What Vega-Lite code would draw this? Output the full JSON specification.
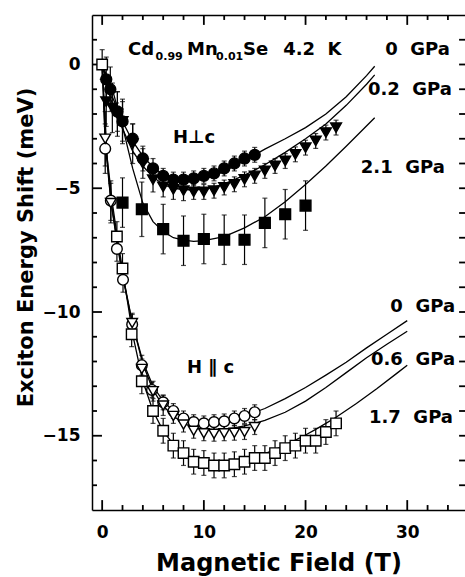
{
  "$schema": "https://vega.github.io/schema/vega-lite/v6.json",
  "width": 373,
  "height": 495,
  "autosize": {"type": "none"},
  "padding": {"left": 92, "top": 15, "right": 0, "bottom": 67},
  "background": "white",
  "config": {
    "view": {"stroke": null},
    "axis": {
      "grid": false,
      "domainColor": "black",
      "domainWidth": 1.5,
      "labelColor": "black",
      "titleColor": "black",
      "labelFont": "DejaVu Sans",
      "titleFont": "DejaVu Sans",
      "labelFontWeight": "bold",
      "titleFontWeight": "bold",
      "labelOverlap": false
    }
  },
  "datasets": {
    "ticksX": [
      {"v": 0, "k": "major"}, {"v": 2, "k": "minor"}, {"v": 4, "k": "minor"}, {"v": 6, "k": "minor"}, {"v": 8, "k": "minor"},
      {"v": 10, "k": "major"}, {"v": 12, "k": "minor"}, {"v": 14, "k": "minor"}, {"v": 16, "k": "minor"}, {"v": 18, "k": "minor"},
      {"v": 20, "k": "major"}, {"v": 22, "k": "minor"}, {"v": 24, "k": "minor"}, {"v": 26, "k": "minor"}, {"v": 28, "k": "minor"},
      {"v": 30, "k": "major"}, {"v": 32, "k": "minor"}, {"v": 34, "k": "minor"}
    ],
    "ticksY": [
      {"v": -17, "k": "minor"}, {"v": -16, "k": "minor"}, {"v": -15, "k": "major"}, {"v": -14, "k": "minor"}, {"v": -13, "k": "minor"},
      {"v": -12, "k": "minor"}, {"v": -11, "k": "minor"}, {"v": -10, "k": "major"}, {"v": -9, "k": "minor"}, {"v": -8, "k": "minor"},
      {"v": -7, "k": "minor"}, {"v": -6, "k": "minor"}, {"v": -5, "k": "major"}, {"v": -4, "k": "minor"}, {"v": -3, "k": "minor"},
      {"v": -2, "k": "minor"}, {"v": -1, "k": "minor"}, {"v": 0, "k": "major"}, {"v": 1, "k": "minor"}
    ],
    "pts": [
      {"s": "perp0", "B": 0.4, "E": -0.6, "err": 0.9},
      {"s": "perp0", "B": 0.8, "E": -1.0, "err": 0.9},
      {"s": "perp0", "B": 1.5, "E": -1.9, "err": 0.8},
      {"s": "perp0", "B": 2.0, "E": -2.3, "err": 0.8},
      {"s": "perp0", "B": 3.0, "E": -3.0, "err": 0.6},
      {"s": "perp0", "B": 4.0, "E": -3.8, "err": 0.5},
      {"s": "perp0", "B": 5.0, "E": -4.2, "err": 0.4},
      {"s": "perp0", "B": 6.0, "E": -4.5, "err": 0.3},
      {"s": "perp0", "B": 7.0, "E": -4.65, "err": 0.3},
      {"s": "perp0", "B": 8.0, "E": -4.65, "err": 0.3},
      {"s": "perp0", "B": 9.0, "E": -4.6, "err": 0.3},
      {"s": "perp0", "B": 10.0, "E": -4.5, "err": 0.3},
      {"s": "perp0", "B": 11.0, "E": -4.4, "err": 0.3},
      {"s": "perp0", "B": 12.0, "E": -4.2, "err": 0.3},
      {"s": "perp0", "B": 13.0, "E": -4.0, "err": 0.3},
      {"s": "perp0", "B": 14.0, "E": -3.8, "err": 0.3},
      {"s": "perp0", "B": 15.0, "E": -3.65, "err": 0.3},
      {"s": "perp02", "B": 0.4, "E": -1.5, "err": 1.0},
      {"s": "perp02", "B": 1.0, "E": -1.75, "err": 1.0},
      {"s": "perp02", "B": 1.5, "E": -2.0, "err": 0.9},
      {"s": "perp02", "B": 2.0, "E": -2.3, "err": 0.9},
      {"s": "perp02", "B": 3.0, "E": -3.2, "err": 0.8},
      {"s": "perp02", "B": 4.0, "E": -4.0, "err": 0.6},
      {"s": "perp02", "B": 5.0, "E": -4.65, "err": 0.5},
      {"s": "perp02", "B": 6.0, "E": -4.95, "err": 0.4},
      {"s": "perp02", "B": 7.0, "E": -5.05, "err": 0.4},
      {"s": "perp02", "B": 8.0, "E": -5.1, "err": 0.4},
      {"s": "perp02", "B": 9.0, "E": -5.15, "err": 0.3},
      {"s": "perp02", "B": 10.0, "E": -5.15, "err": 0.3},
      {"s": "perp02", "B": 11.0, "E": -5.1, "err": 0.3},
      {"s": "perp02", "B": 12.0, "E": -4.97, "err": 0.3},
      {"s": "perp02", "B": 13.0, "E": -4.84, "err": 0.3},
      {"s": "perp02", "B": 14.0, "E": -4.64, "err": 0.3},
      {"s": "perp02", "B": 15.0, "E": -4.5, "err": 0.3},
      {"s": "perp02", "B": 16.0, "E": -4.3, "err": 0.3},
      {"s": "perp02", "B": 17.0, "E": -4.1, "err": 0.3},
      {"s": "perp02", "B": 18.0, "E": -3.9, "err": 0.3},
      {"s": "perp02", "B": 19.0, "E": -3.63, "err": 0.3},
      {"s": "perp02", "B": 20.0, "E": -3.36, "err": 0.3},
      {"s": "perp02", "B": 21.0, "E": -3.09, "err": 0.3},
      {"s": "perp02", "B": 22.0, "E": -2.75, "err": 0.3},
      {"s": "perp02", "B": 23.0, "E": -2.55, "err": 0.3},
      {"s": "perp21", "B": 2.0, "E": -5.58, "err": 1.0},
      {"s": "perp21", "B": 3.9, "E": -5.85, "err": 1.1},
      {"s": "perp21", "B": 6.0, "E": -6.65, "err": 1.0},
      {"s": "perp21", "B": 8.0, "E": -7.12, "err": 1.0},
      {"s": "perp21", "B": 10.0, "E": -7.05, "err": 1.0},
      {"s": "perp21", "B": 12.0, "E": -7.08, "err": 1.0},
      {"s": "perp21", "B": 14.0, "E": -7.08, "err": 1.0},
      {"s": "perp21", "B": 16.0, "E": -6.4, "err": 1.0},
      {"s": "perp21", "B": 18.0, "E": -6.05, "err": 1.0},
      {"s": "perp21", "B": 20.0, "E": -5.7, "err": 1.0},
      {"s": "par0", "B": 0.3, "E": -3.4, "err": 1.0},
      {"s": "par0", "B": 0.85, "E": -5.5, "err": 0.8},
      {"s": "par0", "B": 1.45, "E": -7.45, "err": 0.5},
      {"s": "par0", "B": 2.05, "E": -8.7, "err": 0.5},
      {"s": "par0", "B": 2.95, "E": -10.5, "err": 0.4},
      {"s": "par0", "B": 3.9, "E": -12.15, "err": 0.4},
      {"s": "par0", "B": 4.9, "E": -13.15, "err": 0.3},
      {"s": "par0", "B": 6.0, "E": -13.65, "err": 0.3},
      {"s": "par0", "B": 7.0, "E": -14.0, "err": 0.3},
      {"s": "par0", "B": 8.0, "E": -14.3, "err": 0.3},
      {"s": "par0", "B": 9.0, "E": -14.45, "err": 0.3},
      {"s": "par0", "B": 10.0, "E": -14.5, "err": 0.3},
      {"s": "par0", "B": 11.0, "E": -14.45, "err": 0.3},
      {"s": "par0", "B": 12.0, "E": -14.42, "err": 0.3},
      {"s": "par0", "B": 13.0, "E": -14.3, "err": 0.3},
      {"s": "par0", "B": 14.0, "E": -14.2, "err": 0.3},
      {"s": "par0", "B": 15.0, "E": -14.05, "err": 0.3},
      {"s": "par06", "B": 0.3, "E": -3.0, "err": 1.1},
      {"s": "par06", "B": 0.85, "E": -5.6, "err": 0.8},
      {"s": "par06", "B": 2.95, "E": -10.45, "err": 0.4},
      {"s": "par06", "B": 3.9, "E": -12.3, "err": 0.4},
      {"s": "par06", "B": 5.0, "E": -13.2, "err": 0.4},
      {"s": "par06", "B": 6.0, "E": -13.78, "err": 0.4},
      {"s": "par06", "B": 7.0, "E": -14.2, "err": 0.3},
      {"s": "par06", "B": 8.0, "E": -14.55, "err": 0.3},
      {"s": "par06", "B": 9.0, "E": -14.8, "err": 0.3},
      {"s": "par06", "B": 10.0, "E": -14.9, "err": 0.3},
      {"s": "par06", "B": 11.0, "E": -14.92, "err": 0.3},
      {"s": "par06", "B": 12.0, "E": -14.9, "err": 0.3},
      {"s": "par06", "B": 13.0, "E": -14.88, "err": 0.3},
      {"s": "par06", "B": 14.0, "E": -14.85, "err": 0.3},
      {"s": "par06", "B": 15.0, "E": -14.65, "err": 0.3},
      {"s": "par17", "B": 0.0, "E": 0.0, "err": 0.6},
      {"s": "par17", "B": 1.45, "E": -6.95, "err": 0.6},
      {"s": "par17", "B": 2.0, "E": -8.24, "err": 0.6},
      {"s": "par17", "B": 2.9, "E": -10.9, "err": 0.5},
      {"s": "par17", "B": 3.9, "E": -12.8, "err": 0.5},
      {"s": "par17", "B": 5.0, "E": -14.0, "err": 0.5},
      {"s": "par17", "B": 6.0, "E": -14.8, "err": 0.5},
      {"s": "par17", "B": 7.0, "E": -15.4, "err": 0.5},
      {"s": "par17", "B": 8.0, "E": -15.7, "err": 0.5},
      {"s": "par17", "B": 9.0, "E": -16.05, "err": 0.5},
      {"s": "par17", "B": 10.0, "E": -16.1, "err": 0.5},
      {"s": "par17", "B": 11.0, "E": -16.2, "err": 0.5},
      {"s": "par17", "B": 12.0, "E": -16.2, "err": 0.5},
      {"s": "par17", "B": 13.0, "E": -16.15, "err": 0.5},
      {"s": "par17", "B": 14.0, "E": -16.05, "err": 0.5},
      {"s": "par17", "B": 15.0, "E": -15.9, "err": 0.5},
      {"s": "par17", "B": 16.0, "E": -15.9, "err": 0.5},
      {"s": "par17", "B": 17.0, "E": -15.7, "err": 0.5},
      {"s": "par17", "B": 18.0, "E": -15.5, "err": 0.5},
      {"s": "par17", "B": 19.0, "E": -15.4, "err": 0.5},
      {"s": "par17", "B": 20.0, "E": -15.2, "err": 0.5},
      {"s": "par17", "B": 21.0, "E": -15.2, "err": 0.5},
      {"s": "par17", "B": 22.0, "E": -14.85, "err": 0.5},
      {"s": "par17", "B": 23.0, "E": -14.5, "err": 0.5}
    ],
    "fits": [
      {"c": "p0", "B": 0, "E": 0}, {"c": "p0", "B": 0.5, "E": -0.7}, {"c": "p0", "B": 1, "E": -1.3}, {"c": "p0", "B": 2, "E": -2.3}, {"c": "p0", "B": 3, "E": -3.1}, {"c": "p0", "B": 4, "E": -3.7}, {"c": "p0", "B": 5, "E": -4.15}, {"c": "p0", "B": 6, "E": -4.45}, {"c": "p0", "B": 7, "E": -4.62}, {"c": "p0", "B": 8, "E": -4.7}, {"c": "p0", "B": 9, "E": -4.7}, {"c": "p0", "B": 10, "E": -4.62}, {"c": "p0", "B": 11, "E": -4.5}, {"c": "p0", "B": 12, "E": -4.32}, {"c": "p0", "B": 13, "E": -4.1}, {"c": "p0", "B": 14, "E": -3.88}, {"c": "p0", "B": 15, "E": -3.65}, {"c": "p0", "B": 16, "E": -3.42}, {"c": "p0", "B": 18, "E": -3.0}, {"c": "p0", "B": 20, "E": -2.55}, {"c": "p0", "B": 22, "E": -2.0}, {"c": "p0", "B": 24, "E": -1.3}, {"c": "p0", "B": 26, "E": -0.45}, {"c": "p0", "B": 26.8, "E": -0.07},
      {"c": "p02", "B": 0, "E": 0}, {"c": "p02", "B": 0.5, "E": -0.9}, {"c": "p02", "B": 1, "E": -1.6}, {"c": "p02", "B": 2, "E": -2.6}, {"c": "p02", "B": 3, "E": -3.5}, {"c": "p02", "B": 4, "E": -4.1}, {"c": "p02", "B": 5, "E": -4.55}, {"c": "p02", "B": 6, "E": -4.85}, {"c": "p02", "B": 7, "E": -5.0}, {"c": "p02", "B": 8, "E": -5.05}, {"c": "p02", "B": 9, "E": -5.07}, {"c": "p02", "B": 10, "E": -5.03}, {"c": "p02", "B": 11, "E": -4.95}, {"c": "p02", "B": 12, "E": -4.82}, {"c": "p02", "B": 13, "E": -4.65}, {"c": "p02", "B": 14, "E": -4.47}, {"c": "p02", "B": 15, "E": -4.27}, {"c": "p02", "B": 16, "E": -4.05}, {"c": "p02", "B": 18, "E": -3.55}, {"c": "p02", "B": 20, "E": -3.0}, {"c": "p02", "B": 22, "E": -2.4}, {"c": "p02", "B": 24, "E": -1.65}, {"c": "p02", "B": 26, "E": -0.8}, {"c": "p02", "B": 26.8, "E": -0.42},
      {"c": "p21", "B": 0, "E": 0}, {"c": "p21", "B": 1, "E": -1.0}, {"c": "p21", "B": 2, "E": -2.5}, {"c": "p21", "B": 3, "E": -4.2}, {"c": "p21", "B": 4, "E": -5.6}, {"c": "p21", "B": 5, "E": -6.35}, {"c": "p21", "B": 6, "E": -6.75}, {"c": "p21", "B": 7, "E": -7.0}, {"c": "p21", "B": 8, "E": -7.1}, {"c": "p21", "B": 9, "E": -7.15}, {"c": "p21", "B": 10, "E": -7.12}, {"c": "p21", "B": 12, "E": -6.95}, {"c": "p21", "B": 14, "E": -6.6}, {"c": "p21", "B": 16, "E": -6.15}, {"c": "p21", "B": 18, "E": -5.55}, {"c": "p21", "B": 20, "E": -4.85}, {"c": "p21", "B": 22, "E": -4.1}, {"c": "p21", "B": 24, "E": -3.3}, {"c": "p21", "B": 26.8, "E": -2.15},
      {"c": "q0", "B": 0, "E": 0}, {"c": "q0", "B": 0.3, "E": -3.2}, {"c": "q0", "B": 0.85, "E": -5.5}, {"c": "q0", "B": 1.5, "E": -7.3}, {"c": "q0", "B": 2, "E": -8.55}, {"c": "q0", "B": 3, "E": -10.5}, {"c": "q0", "B": 4, "E": -12.0}, {"c": "q0", "B": 5, "E": -13.0}, {"c": "q0", "B": 6, "E": -13.6}, {"c": "q0", "B": 7, "E": -14.0}, {"c": "q0", "B": 8, "E": -14.28}, {"c": "q0", "B": 9, "E": -14.44}, {"c": "q0", "B": 10, "E": -14.5}, {"c": "q0", "B": 11, "E": -14.48}, {"c": "q0", "B": 12, "E": -14.42}, {"c": "q0", "B": 13, "E": -14.32}, {"c": "q0", "B": 14, "E": -14.2}, {"c": "q0", "B": 15, "E": -14.05}, {"c": "q0", "B": 16, "E": -13.9}, {"c": "q0", "B": 18, "E": -13.5}, {"c": "q0", "B": 20, "E": -13.05}, {"c": "q0", "B": 22, "E": -12.55}, {"c": "q0", "B": 24, "E": -12.03}, {"c": "q0", "B": 26, "E": -11.45}, {"c": "q0", "B": 28, "E": -10.9}, {"c": "q0", "B": 30, "E": -10.35},
      {"c": "q06", "B": 0, "E": 0}, {"c": "q06", "B": 0.3, "E": -2.9}, {"c": "q06", "B": 0.85, "E": -5.5}, {"c": "q06", "B": 1.5, "E": -7.2}, {"c": "q06", "B": 2, "E": -8.45}, {"c": "q06", "B": 3, "E": -10.5}, {"c": "q06", "B": 4, "E": -12.1}, {"c": "q06", "B": 5, "E": -13.15}, {"c": "q06", "B": 6, "E": -13.8}, {"c": "q06", "B": 7, "E": -14.2}, {"c": "q06", "B": 8, "E": -14.5}, {"c": "q06", "B": 9, "E": -14.66}, {"c": "q06", "B": 10, "E": -14.73}, {"c": "q06", "B": 11, "E": -14.75}, {"c": "q06", "B": 12, "E": -14.73}, {"c": "q06", "B": 13, "E": -14.68}, {"c": "q06", "B": 14, "E": -14.6}, {"c": "q06", "B": 15, "E": -14.5}, {"c": "q06", "B": 16, "E": -14.38}, {"c": "q06", "B": 18, "E": -14.05}, {"c": "q06", "B": 20, "E": -13.6}, {"c": "q06", "B": 22, "E": -13.05}, {"c": "q06", "B": 24, "E": -12.45}, {"c": "q06", "B": 26, "E": -11.85}, {"c": "q06", "B": 28, "E": -11.3}, {"c": "q06", "B": 30, "E": -10.78},
      {"c": "q17", "B": 0, "E": 0}, {"c": "q17", "B": 0.5, "E": -3.8}, {"c": "q17", "B": 1, "E": -5.6}, {"c": "q17", "B": 1.5, "E": -7.0}, {"c": "q17", "B": 2, "E": -8.3}, {"c": "q17", "B": 3, "E": -10.9}, {"c": "q17", "B": 4, "E": -12.8}, {"c": "q17", "B": 5, "E": -14.0}, {"c": "q17", "B": 6, "E": -14.8}, {"c": "q17", "B": 7, "E": -15.35}, {"c": "q17", "B": 8, "E": -15.72}, {"c": "q17", "B": 9, "E": -15.95}, {"c": "q17", "B": 10, "E": -16.08}, {"c": "q17", "B": 11, "E": -16.13}, {"c": "q17", "B": 12, "E": -16.12}, {"c": "q17", "B": 13, "E": -16.07}, {"c": "q17", "B": 14, "E": -15.98}, {"c": "q17", "B": 15, "E": -15.86}, {"c": "q17", "B": 16, "E": -15.72}, {"c": "q17", "B": 17, "E": -15.56}, {"c": "q17", "B": 18, "E": -15.38}, {"c": "q17", "B": 19, "E": -15.18}, {"c": "q17", "B": 20, "E": -14.97}, {"c": "q17", "B": 21, "E": -14.74}, {"c": "q17", "B": 22, "E": -14.5}, {"c": "q17", "B": 23, "E": -14.25}, {"c": "q17", "B": 25, "E": -13.7}, {"c": "q17", "B": 27, "E": -13.1}, {"c": "q17", "B": 29, "E": -12.47}, {"c": "q17", "B": 30, "E": -12.15}
    ],
    "txtL": [
      {"t": "Cd", "B": 2.54, "E": 0.38},
      {"t": "Mn", "B": 8.34, "E": 0.38},
      {"t": "Se", "B": 13.85, "E": 0.38},
      {"t": "4.2\u00a0\u00a0K", "B": 17.8, "E": 0.38},
      {"t": "H⊥c", "B": 6.96, "E": -3.17},
      {"t": "H\u00a0∥\u00a0c", "B": 8.34, "E": -12.46}
    ],
    "txtR": [
      {"t": "0\u00a0\u00a0GPa", "B": 34.2, "E": 0.38},
      {"t": "0.2\u00a0\u00a0GPa", "B": 34.4, "E": -1.23},
      {"t": "2.1\u00a0\u00a0GPa", "B": 33.7, "E": -4.38},
      {"t": "0\u00a0\u00a0GPa", "B": 34.7, "E": -10.0},
      {"t": "0.6\u00a0\u00a0GPa", "B": 34.7, "E": -12.14},
      {"t": "1.7\u00a0\u00a0GPa", "B": 34.5, "E": -14.48}
    ],
    "txtS": [
      {"t": "0.99", "B": 5.25, "E": 0.18},
      {"t": "0.01", "B": 11.2, "E": 0.18}
    ]
  },
  "resolve": {"axis": {"x": "independent", "y": "independent"}},
  "layer": [
    {
      "data": {"name": "fits"},
      "mark": {"type": "line", "color": "black", "strokeWidth": 1.3},
      "encoding": {
        "x": {
          "field": "B", "type": "quantitative",
          "scale": {"domain": [-1, 35.68], "nice": false, "zero": false},
          "axis": {
            "orient": "bottom",
            "values": [0, 10, 20, 30],
            "ticks": false,
            "tickSize": 0,
            "labelFontSize": 17,
            "labelPadding": 14,
            "title": "Magnetic Field (T)",
            "titleFontSize": 24,
            "titleBaseline": "alphabetic",
            "titleY": 60
          }
        },
        "y": {
          "field": "E", "type": "quantitative",
          "scale": {"domain": [-18, 2], "nice": false, "zero": false},
          "axis": {
            "orient": "left",
            "values": [-15, -10, -5, 0],
            "ticks": false,
            "tickSize": 0,
            "labelFontSize": 17,
            "labelPadding": 12,
            "title": "Exciton Energy Shift (meV)",
            "titleFontSize": 21,
            "titleBaseline": "alphabetic",
            "titleX": -60,
            "titleY": 232
          }
        },
        "detail": {"field": "c"}
      }
    },
    {
      "data": {"name": "ticksX"},
      "transform": [{"filter": "datum.k === 'major'"}],
      "mark": {"type": "rule", "color": "black", "strokeWidth": 1.8},
      "encoding": {
        "x": {"field": "v", "type": "quantitative", "scale": {"domain": [-1, 35.68], "nice": false, "zero": false}, "axis": null},
        "y": {"datum": -18, "type": "quantitative", "scale": {"domain": [-18, 2], "nice": false, "zero": false}, "axis": null},
        "y2": {"datum": -17.6}
      }
    },
    {
      "data": {"name": "ticksX"},
      "transform": [{"filter": "datum.k === 'minor'"}],
      "mark": {"type": "rule", "color": "black", "strokeWidth": 1.8},
      "encoding": {
        "x": {"field": "v", "type": "quantitative", "scale": {"domain": [-1, 35.68], "nice": false, "zero": false}, "axis": null},
        "y": {"datum": -18, "type": "quantitative", "scale": {"domain": [-18, 2], "nice": false, "zero": false}, "axis": null},
        "y2": {"datum": -17.8}
      }
    },
    {
      "data": {"name": "ticksX"},
      "transform": [{"filter": "datum.k === 'major'"}],
      "mark": {"type": "rule", "color": "black", "strokeWidth": 1.8},
      "encoding": {
        "x": {"field": "v", "type": "quantitative", "scale": {"domain": [-1, 35.68], "nice": false, "zero": false}, "axis": null},
        "y": {"datum": 2, "type": "quantitative", "scale": {"domain": [-18, 2], "nice": false, "zero": false}, "axis": null},
        "y2": {"datum": 1.6}
      }
    },
    {
      "data": {"name": "ticksX"},
      "transform": [{"filter": "datum.k === 'minor'"}],
      "mark": {"type": "rule", "color": "black", "strokeWidth": 1.8},
      "encoding": {
        "x": {"field": "v", "type": "quantitative", "scale": {"domain": [-1, 35.68], "nice": false, "zero": false}, "axis": null},
        "y": {"datum": 2, "type": "quantitative", "scale": {"domain": [-18, 2], "nice": false, "zero": false}, "axis": null},
        "y2": {"datum": 1.8}
      }
    },
    {
      "data": {"name": "ticksY"},
      "transform": [{"filter": "datum.k === 'major'"}],
      "mark": {"type": "rule", "color": "black", "strokeWidth": 1.8},
      "encoding": {
        "y": {"field": "v", "type": "quantitative", "scale": {"domain": [-18, 2], "nice": false, "zero": false}, "axis": null},
        "x": {"datum": -1, "type": "quantitative", "scale": {"domain": [-1, 35.68], "nice": false, "zero": false}, "axis": null},
        "x2": {"datum": -0.02}
      }
    },
    {
      "data": {"name": "ticksY"},
      "transform": [{"filter": "datum.k === 'minor'"}],
      "mark": {"type": "rule", "color": "black", "strokeWidth": 1.8},
      "encoding": {
        "y": {"field": "v", "type": "quantitative", "scale": {"domain": [-18, 2], "nice": false, "zero": false}, "axis": null},
        "x": {"datum": -1, "type": "quantitative", "scale": {"domain": [-1, 35.68], "nice": false, "zero": false}, "axis": null},
        "x2": {"datum": -0.51}
      }
    },
    {
      "data": {"name": "ticksY"},
      "mark": {"type": "rule", "color": "black", "strokeWidth": 1.8},
      "encoding": {
        "y": {"field": "v", "type": "quantitative", "scale": {"domain": [-18, 2], "nice": false, "zero": false}, "axis": null},
        "x": {"datum": 35.68, "type": "quantitative", "scale": {"domain": [-1, 35.68], "nice": false, "zero": false}, "axis": null},
        "x2": {"datum": 35.1}
      }
    },
    {
      "data": {"name": "pts"},
      "mark": {"type": "errorbar", "ticks": {"size": 5, "color": "black", "thickness": 1.2}, "rule": {"strokeWidth": 1.2, "color": "black"}},
      "encoding": {
        "x": {"field": "B", "type": "quantitative", "scale": {"domain": [-1, 35.68], "nice": false, "zero": false},
          "axis": {"orient": "top", "values": [0], "ticks": false, "tickSize": 0, "labels": false, "domain": true, "title": null}},
        "y": {"field": "E", "type": "quantitative", "scale": {"domain": [-18, 2], "nice": false, "zero": false}, "axis": null},
        "yError": {"field": "err"}
      }
    },
    {
      "data": {"name": "pts"},
      "mark": {"type": "point", "filled": true, "strokeWidth": 1.4, "opacity": 1},
      "encoding": {
        "x": {"field": "B", "type": "quantitative", "scale": {"domain": [-1, 35.68], "nice": false, "zero": false}, "axis": null},
        "y": {"field": "E", "type": "quantitative", "scale": {"domain": [-18, 2], "nice": false, "zero": false}, "axis": null},
        "shape": {"field": "s", "type": "nominal", "scale": {"domain": ["perp0", "perp02", "perp21", "par0", "par06", "par17"], "range": ["circle", "triangle-down", "square", "circle", "triangle-down", "square"]}, "legend": null},
        "fill": {"field": "s", "type": "nominal", "scale": {"domain": ["perp0", "perp02", "perp21", "par0", "par06", "par17"], "range": ["black", "black", "black", "white", "white", "white"]}, "legend": null},
        "size": {"field": "s", "type": "nominal", "scale": {"domain": ["perp0", "perp02", "perp21", "par0", "par06", "par17"], "range": [120, 110, 95, 150, 135, 120]}, "legend": null},
        "stroke": {"value": "black"}
      }
    },
    {
      "data": {"name": "txtL"},
      "mark": {"type": "text", "align": "left", "baseline": "alphabetic", "font": "DejaVu Sans", "fontWeight": "bold", "fontSize": 18, "color": "black"},
      "encoding": {
        "x": {"field": "B", "type": "quantitative", "scale": {"domain": [-1, 35.68], "nice": false, "zero": false}, "axis": null},
        "y": {"field": "E", "type": "quantitative", "scale": {"domain": [-18, 2], "nice": false, "zero": false}, "axis": null},
        "text": {"field": "t"}
      }
    },
    {
      "data": {"name": "txtR"},
      "mark": {"type": "text", "align": "right", "baseline": "alphabetic", "font": "DejaVu Sans", "fontWeight": "bold", "fontSize": 18, "color": "black"},
      "encoding": {
        "x": {"field": "B", "type": "quantitative", "scale": {"domain": [-1, 35.68], "nice": false, "zero": false}, "axis": null},
        "y": {"field": "E", "type": "quantitative", "scale": {"domain": [-18, 2], "nice": false, "zero": false}, "axis": null},
        "text": {"field": "t"}
      }
    },
    {
      "data": {"name": "txtS"},
      "mark": {"type": "text", "align": "left", "baseline": "alphabetic", "font": "DejaVu Sans", "fontWeight": "bold", "fontSize": 11, "color": "black"},
      "encoding": {
        "x": {"field": "B", "type": "quantitative", "scale": {"domain": [-1, 35.68], "nice": false, "zero": false}, "axis": null},
        "y": {"field": "E", "type": "quantitative", "scale": {"domain": [-18, 2], "nice": false, "zero": false}, "axis": null},
        "text": {"field": "t"}
      }
    }
  ]
}
